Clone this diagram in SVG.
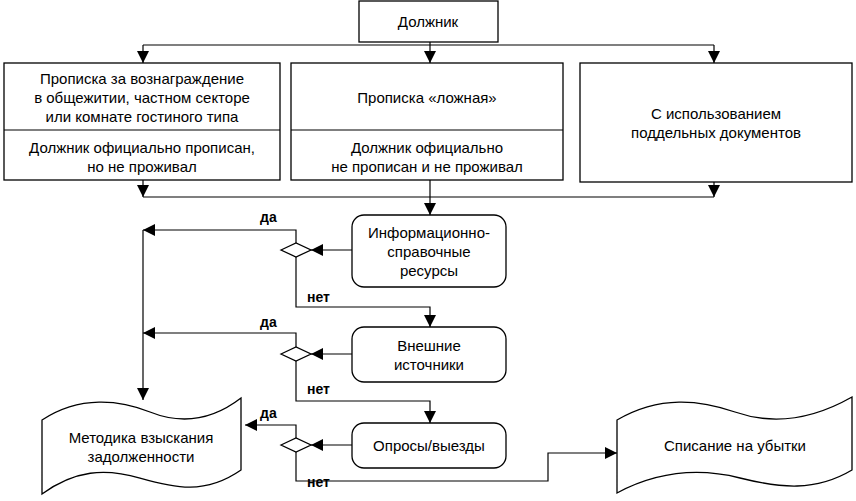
<svg xmlns="http://www.w3.org/2000/svg" width="856" height="501" viewBox="0 0 856 501">
<defs>
<marker id="a" viewBox="0 0 10 10" refX="10" refY="5" markerWidth="12" markerHeight="12" markerUnits="userSpaceOnUse" orient="auto"><path d="M0,0 L10,5 L0,10 z" fill="#000"/></marker>
<style>
.b{fill:#fff;stroke:#000;stroke-width:1.3}
.l{fill:none;stroke:#000;stroke-width:1.2}
.t{font-family:"Liberation Sans",Arial,sans-serif;font-size:15px;text-anchor:middle;fill:#000}
.s{font-family:"Liberation Sans",Arial,sans-serif;font-size:14px;font-weight:bold;fill:#000}
</style>
</defs>
<rect width="856" height="501" fill="#fff"/>
<g id="connectors">
<path class="l" d="M143,45 H714"/>
<path class="l" d="M143,45 V63" marker-end="url(#a)"/>
<path class="l" d="M430,42 V63" marker-end="url(#a)"/>
<path class="l" d="M714,45 V63" marker-end="url(#a)"/>
<path class="l" d="M143,180 V197" marker-end="url(#a)"/>
<path class="l" d="M714,182 V197" marker-end="url(#a)"/>
<path class="l" d="M143,197 H714"/>
<path class="l" d="M430,180 V215" marker-end="url(#a)"/>
<path class="l" d="M352,250 H311" marker-end="url(#a)"/>
<path class="l" d="M296,243 V230 H143" marker-end="url(#a)"/>
<path class="l" d="M143,230 V400" marker-end="url(#a)"/>
<path class="l" d="M296,257 V307 H430 V327" marker-end="url(#a)"/>
<path class="l" d="M352,354 H311" marker-end="url(#a)"/>
<path class="l" d="M296,347 V333 H143" marker-end="url(#a)"/>
<path class="l" d="M296,361 V401 H430 V423" marker-end="url(#a)"/>
<path class="l" d="M352,445 H311" marker-end="url(#a)"/>
<path class="l" d="M296,438 V425 H245" marker-end="url(#a)"/>
<path class="l" d="M296,452 V481 H548 V453 H617" marker-end="url(#a)"/>
<path class="b" d="M281,250 L296,243 L311,250 L296,257 Z"/>
<path class="b" d="M281,354 L296,347 L311,354 L296,361 Z"/>
<path class="b" d="M281,445 L296,438 L311,445 L296,452 Z"/>
<text class="s" x="260" y="222">да</text>
<text class="s" x="260" y="327">да</text>
<text class="s" x="260" y="418">да</text>
<text class="s" x="307" y="302">нет</text>
<text class="s" x="307" y="394">нет</text>
<text class="s" x="307" y="487">нет</text>
</g>
<g id="n-dolzhnik"><rect class="b" x="359" y="1" width="139" height="41"/><text class="t" x="428" y="27">Должник</text></g>
<g id="n-left"><rect class="b" x="4" y="63" width="276" height="117"/><path class="l" d="M4,130 H280"/>
<text class="t" x="142" y="84">Прописка за вознаграждение</text><text class="t" x="142" y="103">в общежитии, частном секторе</text><text class="t" x="142" y="122">или комнате гостиного типа</text>
<text class="t" x="142" y="153">Должник официально прописан,</text><text class="t" x="142" y="172">но не проживал</text></g>
<g id="n-mid"><rect class="b" x="291" y="63" width="272" height="117"/><path class="l" d="M291,130 H563"/>
<text class="t" x="427" y="103">Прописка «ложная»</text>
<text class="t" x="427" y="153">Должник официально</text><text class="t" x="427" y="172">не прописан и не проживал</text></g>
<g id="n-right"><rect class="b" x="580" y="63" width="272" height="119"/>
<text class="t" x="716" y="119">С использованием</text><text class="t" x="716" y="138">поддельных документов</text></g>
<g id="n-info"><rect class="b" x="352" y="215" width="154" height="72" rx="12"/>
<text class="t" x="429" y="238">Информационно-</text><text class="t" x="429" y="257">справочные</text><text class="t" x="429" y="276">ресурсы</text></g>
<g id="n-ext"><rect class="b" x="352" y="327" width="154" height="55" rx="12"/>
<text class="t" x="429" y="351">Внешние</text><text class="t" x="429" y="370">источники</text></g>
<g id="n-opr"><rect class="b" x="352" y="423" width="154" height="45" rx="12"/>
<text class="t" x="429" y="451">Опросы/выезды</text></g>
<g id="n-metod"><path class="b" d="M42,420 C80,395 120,400 150,412 C185,426 215,418 241,398 V470 C205,495 175,488 140,478 C105,468 75,470 42,494 Z"/>
<text class="t" x="141" y="443">Методика взыскания</text><text class="t" x="141" y="462">задолженности</text></g>
<g id="n-spis"><path class="b" d="M617,420 C660,395 700,400 735,412 C775,426 815,418 852,397 V470 C815,492 780,488 740,478 C700,468 660,470 617,493 Z"/>
<text class="t" x="735" y="451">Списание на убытки</text></g>
</svg>
